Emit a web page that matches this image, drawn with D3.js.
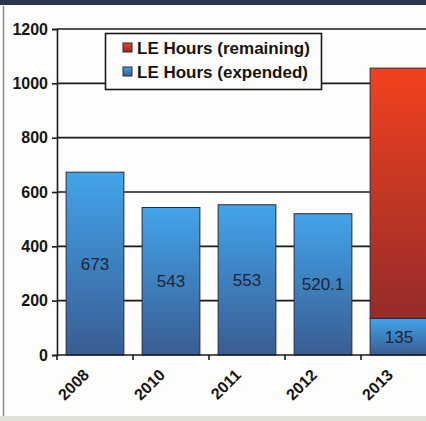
<!DOCTYPE html>
<html lang="en">
<head>
<meta charset="utf-8">
<title>LE Hours</title>
<script src="https://d3js.org/d3.v7.min.js"></script>
<style>
  body { margin: 0; background: #fdfdfb; }
  svg { display: block; }
</style>
</head>
<body>
<div id="chart"></div>
<script>
// data
var years     = ["2008", "2010", "2011", "2012", "2013"];
var expended  = [673, 543, 553, 520.1, 135];
var remaining = [0, 0, 0, 0, 921];
var yTicks    = [0, 200, 400, 600, 800, 1000, 1200];
var legendLabels = ["LE Hours (remaining)", "LE Hours (expended)"];

var W = 426, H = 421;
var svg = d3.select("#chart").append("svg").attr("width", W).attr("height", H);

var defs = svg.append("defs");
function grad(id, top, bottom) {
  var g = defs.append("linearGradient").attr("id", id)
    .attr("x1", 0).attr("y1", 0).attr("x2", 0).attr("y2", 1);
  g.append("stop").attr("offset", "0%").attr("stop-color", top);
  g.append("stop").attr("offset", "100%").attr("stop-color", bottom);
}
grad("blueG", "#42a4ea", "#3a5c93");
grad("redG", "#f2421f", "#952b29");

// slide frame bits
svg.append("rect").attr("width", W).attr("height", H).attr("fill", "#fdfdfb");
svg.append("rect").attr("x", 0).attr("y", 0).attr("width", W).attr("height", 5).attr("fill", "#2c3652");
svg.append("rect").attr("x", 0).attr("y", 416).attr("width", W).attr("height", 5).attr("fill", "#dfe2d8");
svg.append("line").attr("x1", 3.5).attr("x2", 3.5).attr("y1", 6).attr("y2", 416)
  .attr("stroke", "#8a8a8a").attr("stroke-width", 1.5);

var x = d3.scaleBand().domain(years).range([57, 437]).paddingInner(0.24).paddingOuter(0.12);
var y = d3.scaleLinear().domain([0, 1200]).range([355, 29]);

// gridlines
svg.append("g").selectAll("line").data(yTicks.slice(1)).join("line")
  .attr("x1", 57).attr("x2", W)
  .attr("y1", function(d) { return y(d); }).attr("y2", function(d) { return y(d); })
  .attr("stroke", "#1a1a1a").attr("stroke-width", 1.6);

// y axis
var yAxis = svg.append("g").attr("transform", "translate(57,0)")
  .call(d3.axisLeft(y).tickValues(yTicks).tickFormat(d3.format("d")).tickSize(5).tickPadding(4));
yAxis.select(".domain").attr("stroke", "#1a1a1a").attr("stroke-width", 1.6);
yAxis.selectAll(".tick line").attr("stroke", "#1a1a1a").attr("stroke-width", 1.6);
yAxis.selectAll("text").attr("font-family", "Liberation Sans, Arial, sans-serif")
  .attr("font-weight", "bold").attr("font-size", 16).attr("fill", "#151515");

// bars: expended
svg.append("g").selectAll("rect").data(years).join("rect")
  .attr("x", function(d) { return x(d); })
  .attr("width", x.bandwidth())
  .attr("y", function(d, i) { return y(expended[i]); })
  .attr("height", function(d, i) { return y(0) - y(expended[i]); })
  .attr("fill", "url(#blueG)").attr("stroke", "#2a2a3a").attr("stroke-width", 1);

// bars: remaining, stacked on top
svg.append("g").selectAll("rect").data(years.filter(function(d, i) { return remaining[i] > 0; })).join("rect")
  .attr("x", function(d) { return x(d); })
  .attr("width", x.bandwidth())
  .attr("y", function(d) { var i = years.indexOf(d); return y(expended[i] + remaining[i]); })
  .attr("height", function(d) { var i = years.indexOf(d); return y(expended[i]) - y(expended[i] + remaining[i]); })
  .attr("fill", "url(#redG)").attr("stroke", "#2a2a3a").attr("stroke-width", 1);

// value labels
svg.append("g").selectAll("text").data(years).join("text")
  .attr("x", function(d) { return x(d) + x.bandwidth() / 2; })
  .attr("y", function(d, i) { return y(expended[i] / 2) + 6; })
  .attr("text-anchor", "middle")
  .attr("font-family", "Liberation Sans Narrow, Arial Narrow, Liberation Sans, sans-serif")
  .attr("font-size", 17).attr("fill", "#1c2636")
  .text(function(d, i) { return expended[i]; });

// x axis
var xAxis = svg.append("g").attr("transform", "translate(0,355)");
xAxis.append("line").attr("x1", 57).attr("x2", W).attr("stroke", "#1a1a1a").attr("stroke-width", 1.6);
var edges = years.map(function(d) { return x(d) - x.step() * x.paddingInner() / 2; });
xAxis.selectAll(".tk").data(edges).join("line").attr("class", "tk")
  .attr("x1", function(d) { return d; }).attr("x2", function(d) { return d; })
  .attr("y1", 0).attr("y2", 5).attr("stroke", "#1a1a1a").attr("stroke-width", 1.6);
xAxis.selectAll("text").data(years).join("text")
  .attr("transform", function(d) { return "translate(" + (x(d) + x.bandwidth() / 2 - 5) + ",21) rotate(-45)"; })
  .attr("text-anchor", "end")
  .attr("font-family", "Liberation Sans, Arial, sans-serif")
  .attr("font-weight", "bold").attr("font-size", 16).attr("fill", "#151515")
  .text(function(d) { return d; });

// legend
var lg = svg.append("g");
lg.append("rect").attr("x", 105.5).attr("y", 33.5).attr("width", 216).attr("height", 56)
  .attr("fill", "#fdfdfb").attr("stroke", "#1a1a1a").attr("stroke-width", 1.6);
var swatch = ["url(#redG)", "url(#blueG)"];
lg.selectAll(".it").data(legendLabels).join("g").attr("class", "it")
  .attr("transform", function(d, i) { return "translate(123," + (43 + i * 24) + ")"; })
  .each(function(d, i) {
    var g = d3.select(this);
    g.append("rect").attr("width", 9).attr("height", 9)
      .attr("fill", swatch[i]).attr("stroke", "#2a2a3a").attr("stroke-width", 1);
    g.append("text").attr("x", 14).attr("y", 10.5)
      .attr("font-family", "Liberation Sans, Arial, sans-serif")
      .attr("font-weight", "bold").attr("font-size", 17).attr("fill", "#151515")
      .text(d);
  });
</script>
</body>
</html>
